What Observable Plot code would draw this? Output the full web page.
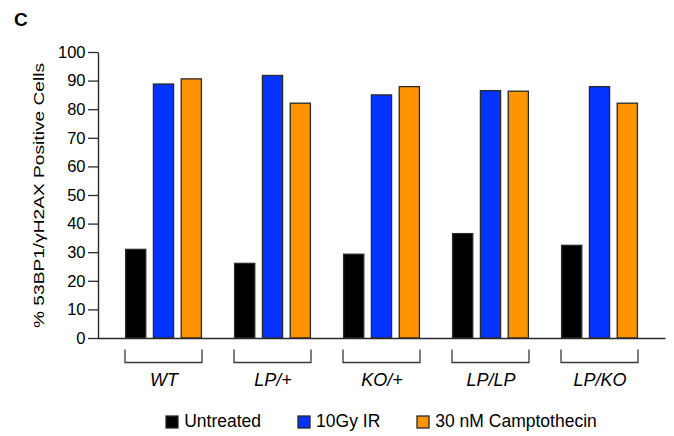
<!DOCTYPE html>
<html><head><meta charset="utf-8">
<script src="https://cdn.jsdelivr.net/npm/d3@7"></script>
<script src="https://cdn.jsdelivr.net/npm/@observablehq/plot@0.6"></script>
<style>
body{margin:0;background:#fff;}
#wrap{position:relative;width:674px;height:436px;font-family:"Liberation Sans",Arial,sans-serif;}
#title{position:absolute;left:14px;top:10px;font:bold 19px/19px "Liberation Sans",Arial,sans-serif;color:#000;}
.lg-swatches{font-family:"Liberation Sans",Arial,sans-serif !important;font-size:17.5px !important;color:#000;margin:5px 0 0 98px !important;width:567px;}
.lg-swatches-wrap{justify-content:center;}
.lg-swatch{margin-right:37px !important;}
.lg-swatch:last-child{margin-right:0 !important;}
.lg-swatch > svg{margin-right:6px !important;overflow:visible;}
.lg-swatch > svg rect{stroke:#2a2a2a;stroke-width:1.3px;}
</style></head><body><div id="wrap"><div id="title">C</div></div>
<script>
const genotypes = ["WT", "LP/+", "KO/+", "LP/LP", "LP/KO"];
const treatments = ["Untreated", "10Gy IR", "30 nM Camptothecin"];
const colors = ["#000000", "#0433ff", "#ff9300"];
const untreated = [31.0, 26.1, 29.3, 36.5, 32.4];
const ir10Gy = [88.8, 91.8, 85.0, 86.5, 87.9];
const camptothecin = [90.6, 82.1, 87.9, 86.3, 82.1];
const yTicks = [0, 10, 20, 30, 40, 50, 60, 70, 80, 90, 100];
const yLabel = "% 53BP1/\u03b3H2AX Positive Cells";

const series = [untreated, ir10Gy, camptothecin];
const rows = treatments.map((t, ti) => genotypes.map((g, gi) => ({genotype: g, treatment: t, value: series[ti][gi]})));

// layout
const W = 674, H = 400, mL = 98, mR = 9, mT = 52, mB = 62;
const fw = W - mL - mR, fh = H - mT - mB;
const pIn = 0.2893, pOut = 0.2278;
const step = fw / (genotypes.length - pIn + 2 * pOut);
const bw = step * (1 - pIn);
const barW = bw * 0.287;
const gap = (bw - 3 * barW) / 2;

const barMarks = rows.map((data, ti) => Plot.barY(data, {
  x: "genotype", y: "value", fill: "treatment",
  stroke: "#2a2a2a", strokeWidth: 1.3,
  insetLeft: ti * (barW + gap) + 0.6,
  insetRight: (2 - ti) * (barW + gap) + 0.6
}));

const chart = Plot.plot({
  width: W, height: H,
  marginLeft: mL, marginRight: mR, marginTop: mT, marginBottom: mB,
  style: {fontFamily: "'Liberation Sans', Arial, sans-serif", background: "white", color: "#000", overflow: "visible"},
  x: {domain: genotypes, paddingInner: pIn, paddingOuter: pOut},
  y: {domain: [0, 100]},
  color: {domain: treatments, range: colors},
  marks: [
    ...barMarks,
    Plot.barY(genotypes, {x: d => d, y1: 0, y2: 0, insetTop: 11.5, insetBottom: -24.5,
      fill: "none", stroke: "#3a3a3a", strokeWidth: 1.3, className: "bracket"}),
    // left and bottom sides of the frame (axis lines)
    Plot.frame({stroke: "#2a2a2a", strokeWidth: 1.4, strokeDasharray: `0 ${fw + fh} ${fw + fh}`}),
    Plot.axisY({ticks: yTicks, tickSize: 10, tickPadding: 3, fontSize: 16.5, label: null, stroke: "#2a2a2a", strokeWidth: 1.3}),
    Plot.axisX({tickSize: 0, tickPadding: 35, fontSize: 18, fontStyle: "italic", label: null}),
    Plot.text([yLabel], {frameAnchor: "left", textAnchor: "middle", dx: -59.3, rotate: -90, fontSize: 15.5})
  ]
});

const wrap = document.getElementById("wrap");
wrap.appendChild(chart);

// brackets: hide the top edge of each bracket rect
chart.querySelectorAll(".bracket rect").forEach(r => {
  const w = +r.getAttribute("width"), h = +r.getAttribute("height");
  r.setAttribute("stroke-dasharray", `0 ${w} ${2 * h + w}`);
});
chart.querySelectorAll("text").forEach(t => {
  if (t.textContent === yLabel) { t.setAttribute("textLength", 265); t.setAttribute("lengthAdjust", "spacingAndGlyphs"); }
});

const legend = Plot.legend({color: {domain: treatments, range: colors}, legend: "swatches", swatchSize: 12, className: "lg"});
wrap.appendChild(legend);
</script></body></html>
